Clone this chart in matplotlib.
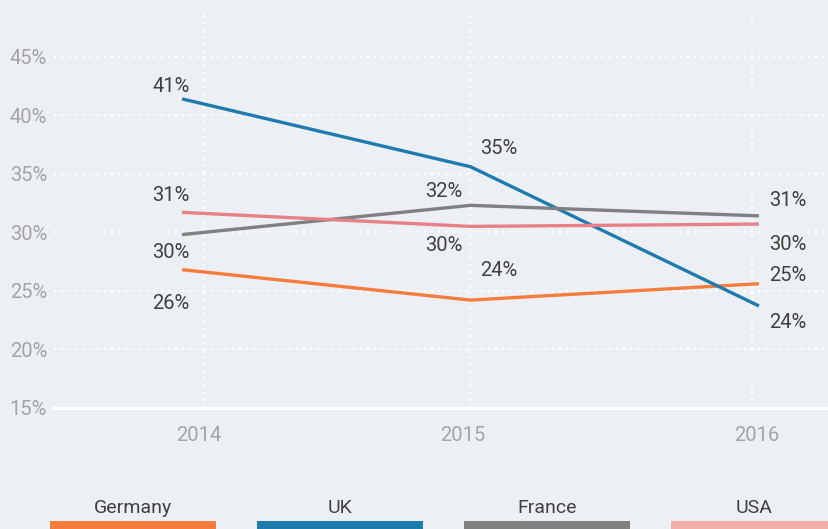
import matplotlib.pyplot as plt
from matplotlib.patches import Rectangle

# chart data
years = ['2014', '2015', '2016']
series_names = ['Germany', 'UK', 'France', 'USA']
germany = [26.8, 24.2, 25.6]
uk = [41.4, 35.6, 23.7]
france = [29.8, 32.3, 31.4]
usa = [31.7, 30.5, 30.7]
germany_labels = ['26%', '24%', '25%']
uk_labels = ['41%', '35%', '24%']
france_labels = ['30%', '32%', '31%']
usa_labels = ['31%', '30%', '30%']
y_ticks = [15, 20, 25, 30, 35, 40, 45]

# styling
line_colors = ['#F47D3D', '#1E7BAE', '#808080', '#E98087']
legend_colors = ['#F47D3D', '#1E7BAE', '#808080', '#F2AEA8']
bg = '#ECEFF4'
# label offsets (points) for each series / year
offsets = [
    [(-8, -24), (20, 21), (21, 6)],     # Germany
    [(-8, 9), (20, 13), (21, -12)],      # UK
    [(-8, -13), (-19, 10), (21, 11)],    # France
    [(-8, 12), (-19, -14), (21, -15)],   # USA
]
grid_x = [0.076, 1.0, 1.976]  # vertical guides sit a bit off the points
tick_x = [0.059, 0.974, 1.993]

plt.rcParams['font.family'] = ['Roboto', 'DejaVu Sans']

fig = plt.figure(figsize=(8.29, 5.29), dpi=100, facecolor=bg)
ax = fig.add_axes([54 / 829, 1 - 407.7 / 529, 1 - 54 / 829, (407.7 - 10) / 529])
ax.set_facecolor(bg)

all_vals = [germany, uk, france, usa]
all_labels = [germany_labels, uk_labels, france_labels, usa_labels]
xs = list(range(len(years)))

for gx in grid_x:
    ax.axvline(gx, color='white', lw=1.6, ls=(0, (1, 2.2)), zorder=1)
for yt in y_ticks[1:]:
    ax.axhline(yt, color='white', lw=1.6, ls=(0, (1, 2.2)), zorder=1)

for vals, labs, col, offs in zip(all_vals, all_labels, line_colors, offsets):
    ax.plot(xs, vals, color=col, lw=2.4, solid_capstyle='butt', zorder=3)
    for x, v, lab, off in zip(xs, vals, labs, offs):
        ax.annotate(lab, (x, v), xytext=off, textcoords='offset points',
                    ha='center', va='center', fontsize=14.5, color='#404040')

ax.set_xlim(-0.444, 2.243)
ax.set_ylim(15, 49)
ax.set_yticks(y_ticks)
ax.set_yticklabels([f'{t}%' for t in y_ticks])
ax.set_xticks(tick_x)
ax.set_xticklabels(years)
ax.tick_params(axis='y', length=0, pad=5, labelsize=14.5, labelcolor='#A4A4A4')
ax.tick_params(axis='x', length=0, pad=13, labelsize=14.5, labelcolor='#A4A4A4')

for s in ['top', 'right', 'left']:
    ax.spines[s].set_visible(False)
ax.spines['bottom'].set_color('white')
ax.spines['bottom'].set_linewidth(2.5)
ax.spines['bottom'].set_zorder(2)

# legend: coloured bars with names above
for i, (name, col) in enumerate(zip(series_names, legend_colors)):
    x0 = (50 + 207 * i) / 829
    w = 166 / 829
    fig.add_artist(Rectangle((x0, 0), w, 8 / 529, transform=fig.transFigure,
                             facecolor=col, edgecolor='none'))
    fig.text(x0 + w / 2, 21 / 529, name, ha='center', va='center',
             fontsize=14, color='#404040')

fig.savefig('out.png', dpi=100, facecolor=bg)
